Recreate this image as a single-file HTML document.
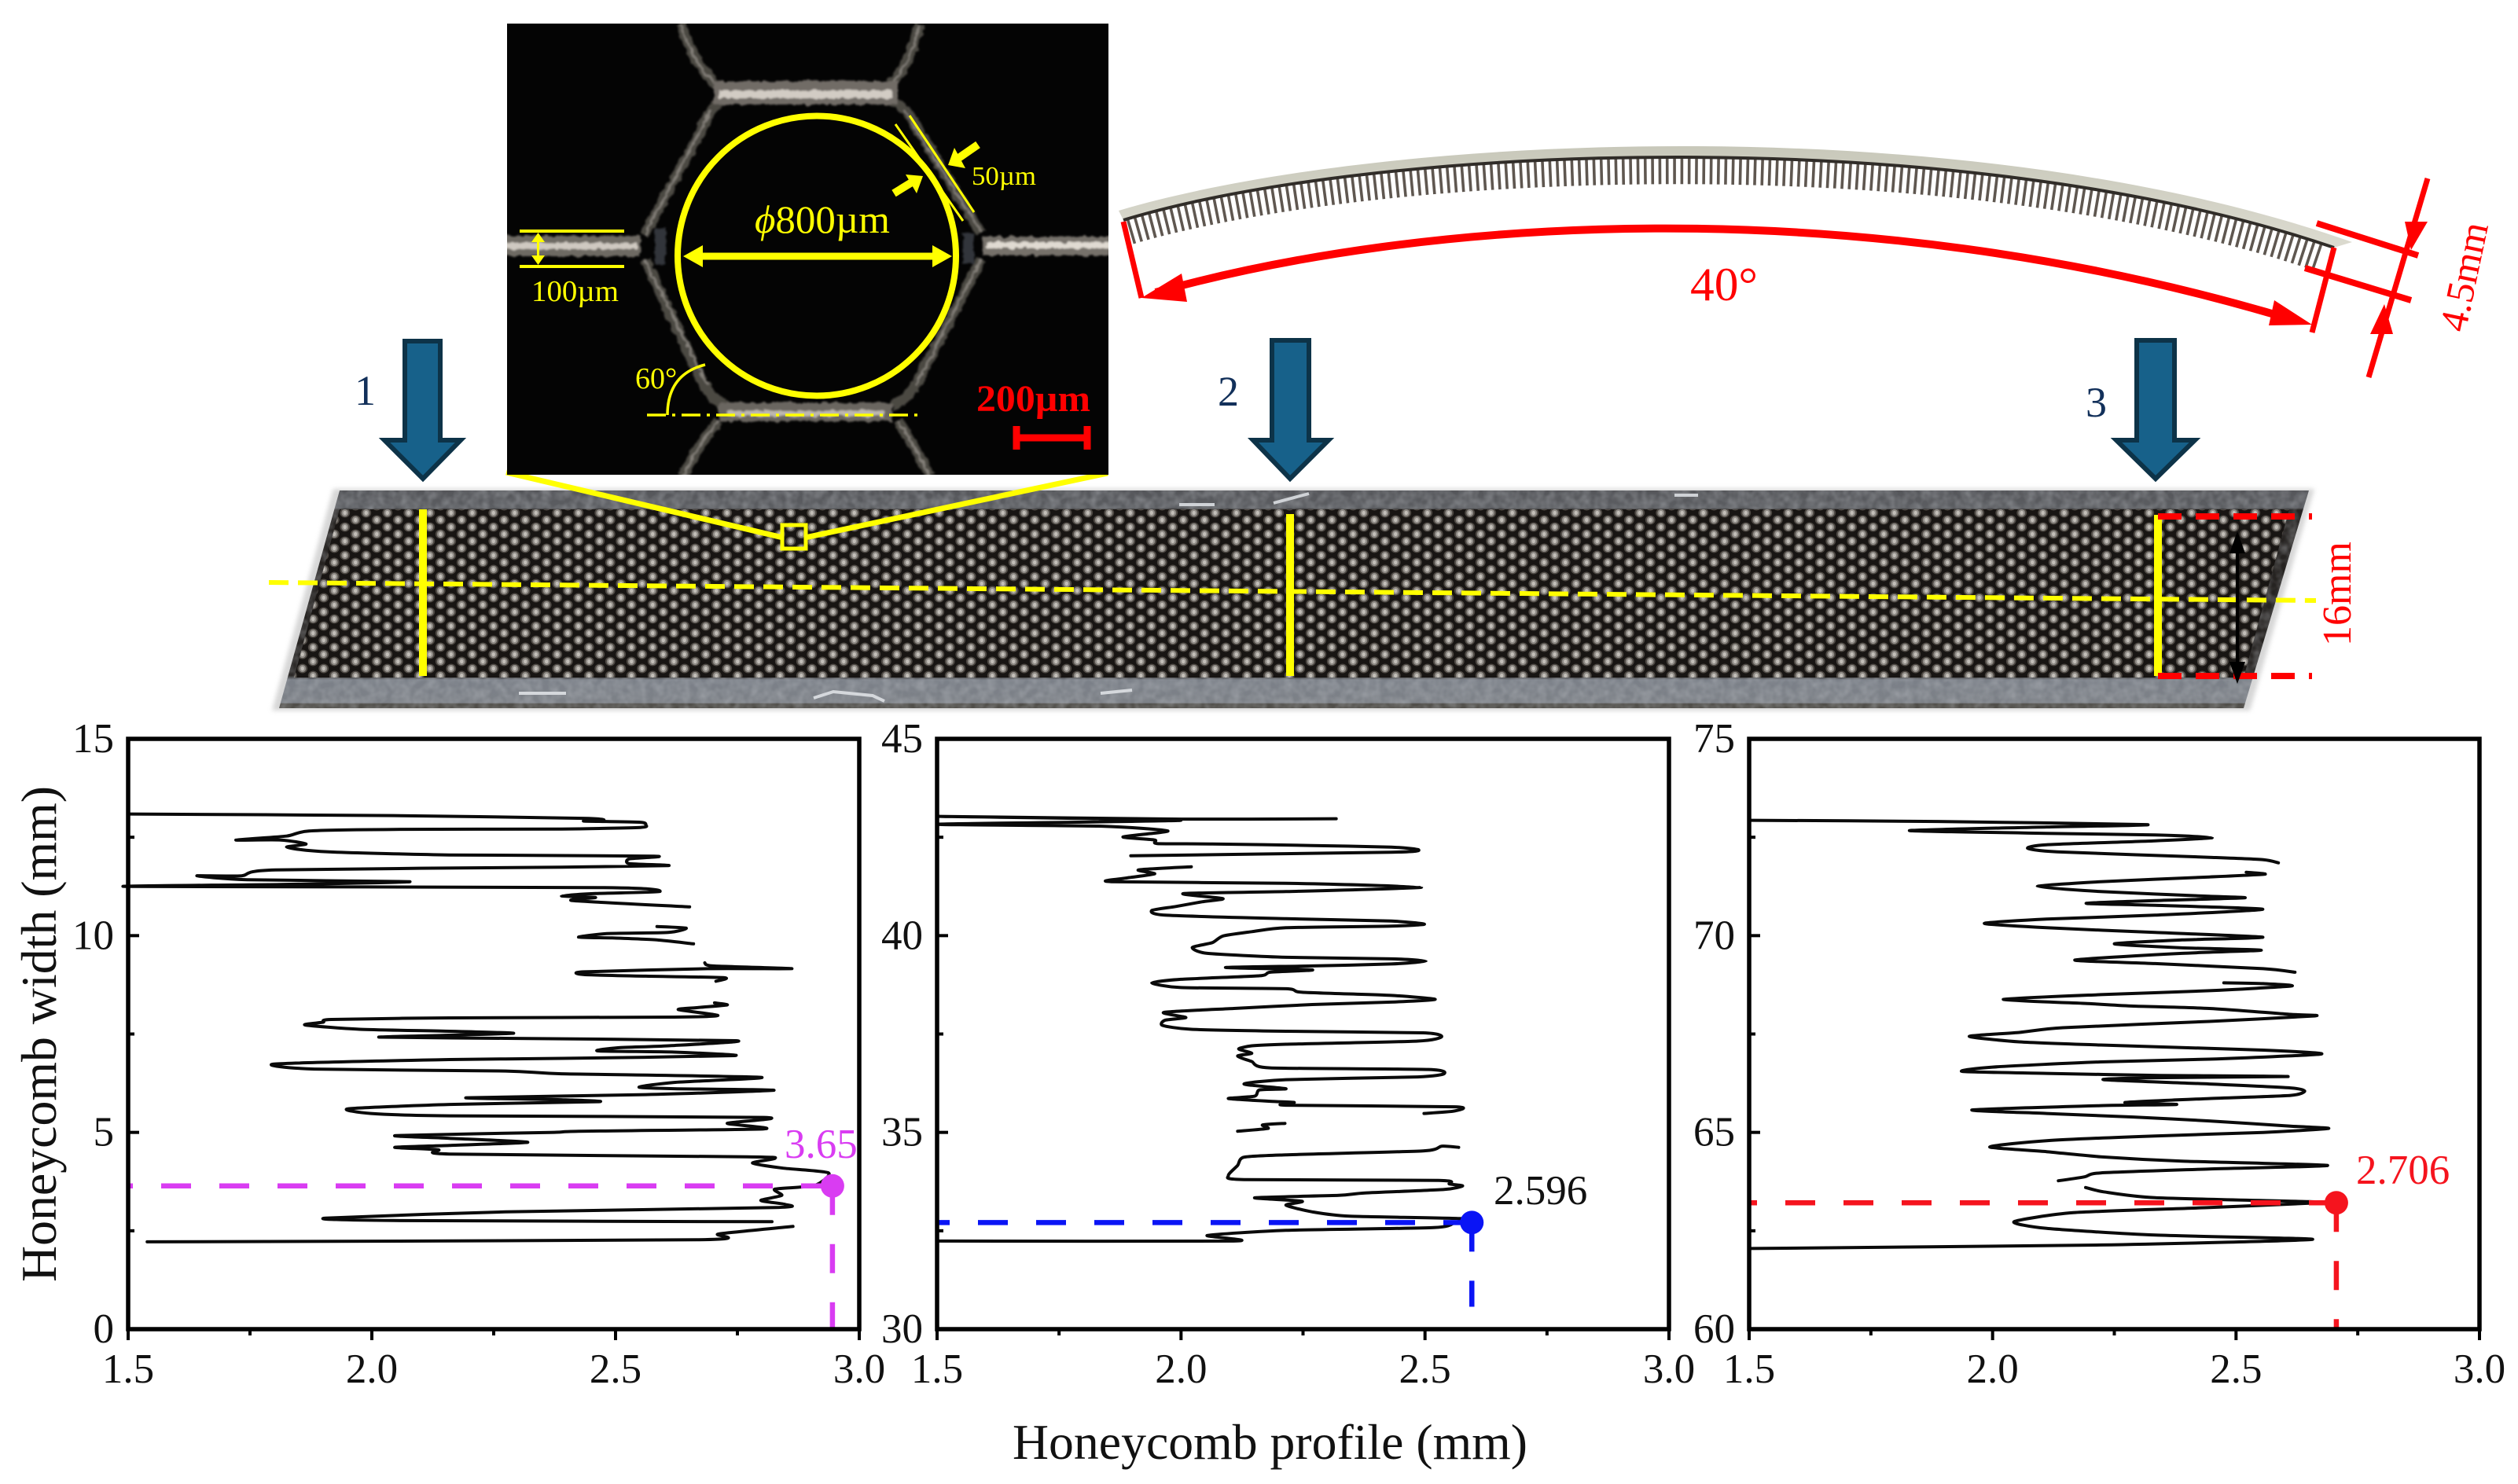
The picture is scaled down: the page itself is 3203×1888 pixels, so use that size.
<!DOCTYPE html>
<html lang="en">
<head>
<meta charset="utf-8">
<title>Honeycomb profile measurements</title>
<style>
html,body{margin:0;padding:0;background:#fff;width:3203px;height:1888px;overflow:hidden}
svg{display:block}
text{font-family:"Liberation Serif","Noto Serif CJK SC",serif}
</style>
</head>
<body>
<svg id="fig" xmlns="http://www.w3.org/2000/svg" width="3203" height="1888" viewBox="0 0 3203 1888">
<defs>
<pattern id="meshDots" patternUnits="userSpaceOnUse" width="27" height="18" x="0" y="648">
<rect width="27" height="18" fill="#181513"/>
<ellipse cx="6.75" cy="4.5" rx="6.4" ry="6" fill="#4e4944"/>
<ellipse cx="20.25" cy="13.5" rx="6.4" ry="6" fill="#4e4944"/>
<ellipse cx="20.25" cy="-4.5" rx="6.4" ry="6" fill="#4e4944"/>
<ellipse cx="6.75" cy="22.5" rx="6.4" ry="6" fill="#4e4944"/>
<ellipse cx="6.75" cy="4.5" rx="4.4" ry="4.6" fill="#8f8b86"/>
<ellipse cx="20.25" cy="13.5" rx="4.4" ry="4.6" fill="#8f8b86"/>
<ellipse cx="6.75" cy="4.5" rx="2.2" ry="2.6" fill="#c2beb8"/>
<ellipse cx="20.25" cy="13.5" rx="2.2" ry="2.6" fill="#c2beb8"/>
</pattern>
<linearGradient id="stripGrad" x1="0" y1="0" x2="0" y2="1">
<stop offset="0" stop-color="#55565a"/>
<stop offset="0.08" stop-color="#5c5e62"/>
<stop offset="0.09" stop-color="#262321"/>
<stop offset="0.85" stop-color="#262321"/>
<stop offset="0.87" stop-color="#7b8088"/>
<stop offset="0.975" stop-color="#7d8187"/>
<stop offset="0.98" stop-color="#504e49"/>
<stop offset="1" stop-color="#504e49"/>
</linearGradient>
<linearGradient id="plateGrad" x1="0" y1="0" x2="0" y2="1">
<stop offset="0" stop-color="#c8c8ba"/>
<stop offset="1" stop-color="#dcdbd0"/>
</linearGradient>
<filter id="softBlur" x="-5%" y="-5%" width="110%" height="110%"><feGaussianBlur stdDeviation="3"/></filter>
<filter id="wallRough" x="-10%" y="-10%" width="120%" height="120%">
<feTurbulence type="fractalNoise" baseFrequency="0.12" numOctaves="2" seed="7" result="n"/>
<feDisplacementMap in="SourceGraphic" in2="n" scale="7" xChannelSelector="R" yChannelSelector="G"/>
<feGaussianBlur stdDeviation="1.2"/>
</filter>
<filter id="grain" x="0" y="0" width="100%" height="100%">
<feTurbulence type="fractalNoise" baseFrequency="0.09" numOctaves="2" seed="4"/>
<feColorMatrix values="0 0 0 0 0.55  0 0 0 0 0.57  0 0 0 0 0.6  0.9 0 0 0 -0.25"/>
</filter>
<clipPath id="stripClip"><polygon points="432,624 2937,624 2854,901 355,901"/></clipPath>
<clipPath id="microClip"><rect x="645" y="30" width="765" height="574"/></clipPath>
</defs>

<!-- curved side view -->
<g>
<path d="M1437 294 C1750 202 2485 170 2949 328" fill="none" stroke="#5f5750" stroke-width="34" stroke-dasharray="3.6 5.7"/>
<path d="M1423 268 C1750 170 2500 134 2992 308 L2969 315 C2490 152 1750 183 1429 280 Z" fill="url(#plateGrad)"/>
<path d="M1429 280 C1750 183 2490 152 2969 315" fill="none" stroke="#302c28" stroke-width="4"/>
</g>
<g fill="none" stroke="#ff0000">
<path d="M1429 282 L1452 379" stroke-width="7"/>
<path d="M1470 372 C1800 280 2350 235 2920 408" stroke-width="10"/>
<polygon points="1452,379 1503,348 1510,384" fill="#ff0000" stroke="none"/>
<polygon points="2941,413 2893,382 2886,414" fill="#ff0000" stroke="none"/>
<path d="M2969 315 L2941 423" stroke-width="7"/>
<path d="M2947 284 L3076 325" stroke-width="8"/>
<path d="M2932 341 L3067 382" stroke-width="8"/>
<path d="M3088 227 L3013 480" stroke-width="7"/>
<polygon points="3067,318 3059,282 3088,282" fill="#ff0000" stroke="none"/>
<polygon points="3033,387 3015,425 3044,425" fill="#ff0000" stroke="none"/>
</g>
<text x="2150" y="382" font-size="60" fill="#ff0000" textLength="86" lengthAdjust="spacingAndGlyphs">40°</text>
<text transform="translate(3136,424) rotate(-78)" font-size="50" fill="#ff0000">4.5mm</text>

<!-- strip photo -->
<g>
<polygon points="424,622 2944,622 2862,904 346,904" fill="#bbb" filter="url(#softBlur)" opacity="0.6"/>
<polygon points="432,624 2937,624 2854,901 355,901" fill="url(#stripGrad)"/>
<g clip-path="url(#stripClip)">
<rect x="340" y="620" width="2610" height="285" filter="url(#grain)" opacity="0.65"/>
<path d="M1500 642 H1545 M1620 640 L1665 628 M2130 630 H2160" stroke="#cfd2d6" stroke-width="4" fill="none"/>
<path d="M1035 888 L1060 880 L1110 885 L1125 892 M1400 882 L1440 878 M660 882 H720" stroke="#d5d8dc" stroke-width="4" fill="none"/>
</g>
<polygon points="432,648 2912,648 2854,862 374,862" fill="url(#meshDots)"/>
</g>

<!-- blue arrows -->
<g fill="#17618a" stroke="#0d3348" stroke-width="6">
<polygon points="515,434 560,434 560,560 586,560 538,609 489,560 515,560"/>
<polygon points="1618,433 1665,433 1665,560 1690,560 1641,609 1594,560 1618,560"/>
<polygon points="2718,433 2766,433 2766,560 2792,560 2742,609 2692,560 2718,560"/>
</g>
<text x="451" y="515" font-size="54" fill="#12305a">1</text>
<text x="1549" y="516" font-size="54" fill="#12305a">2</text>
<text x="2653" y="530" font-size="54" fill="#12305a">3</text>

<!-- strip overlays -->
<g fill="none">
<path d="M538 648 V860" stroke="#ffff00" stroke-width="10"/>
<path d="M1641 654 V860" stroke="#ffff00" stroke-width="10"/>
<path d="M2745 655 V860" stroke="#ffff00" stroke-width="10"/>
<path d="M342 741 L2946 764" stroke="#ffff00" stroke-width="6" stroke-dasharray="25 12"/>
<path d="M2745 657 H2941" stroke="#ff0000" stroke-width="8" stroke-dasharray="30 18"/>
<path d="M2745 860 H2941" stroke="#ff0000" stroke-width="8" stroke-dasharray="30 18"/>
<path d="M2846 690 V860" stroke="#000" stroke-width="4"/>
<polygon points="2846,676 2836,704 2856,704" fill="#000"/>
<polygon points="2846,870 2836,842 2856,842" fill="#000"/>
</g>
<text transform="translate(2990,822) rotate(-90)" font-size="52" fill="#ff0000">16mm</text>

<!-- zoom lines -->
<g fill="none" stroke="#ffff00">
<path d="M644 601 L996 684" stroke-width="7"/>
<path d="M1409 602 L1024 684" stroke-width="7"/>
<rect x="995" y="668" width="30" height="30" stroke-width="5"/>
</g>

<!-- microscope -->
<g>
<rect x="645" y="30" width="765" height="574" fill="#040404"/>
<g clip-path="url(#microClip)">
<g fill="none" stroke="#4b4843" stroke-width="13" filter="url(#wallRough)">
<path d="M866 30 Q885 90 918 112"/>
<path d="M1170 30 Q1155 90 1130 108"/>
<path d="M925 126 Q905 130 890 170 L820 298"/>
<path d="M1125 126 Q1150 130 1168 165 L1248 296"/>
<path d="M820 330 L890 480 Q905 510 925 516"/>
<path d="M1248 330 L1170 480 Q1155 510 1135 516"/>
<path d="M914 535 Q885 570 869 606"/>
<path d="M1142 535 Q1165 570 1183 606"/>
<path d="M866 30 Q885 90 918 112 M1170 30 Q1155 90 1130 108 M905 140 L820 298 M1150 140 L1248 296 M820 330 L900 490 M1248 330 L1165 490 M914 535 Q885 570 869 606 M1142 535 Q1165 570 1183 606" stroke="#86827b" stroke-width="2.5"/>
<path d="M840 290 L840 336" stroke="#33353a" stroke-width="14"/>
<path d="M1232 296 L1232 336" stroke="#33353a" stroke-width="14"/>
<path d="M640 313 H815" stroke="#6e6a64" stroke-width="26"/>
<path d="M640 313 H810" stroke="#cfc9c1" stroke-width="8"/>
<path d="M1250 313 H1415" stroke="#76716b" stroke-width="24"/>
<path d="M1255 312 H1415" stroke="#e0dad2" stroke-width="8"/>
<path d="M908 118 H1142" stroke="#716c66" stroke-width="30"/>
<path d="M915 120 H1135" stroke="#d2ccc4" stroke-width="10"/>
<path d="M915 524 H1135" stroke="#6a6660" stroke-width="24"/>
<path d="M925 526 H1125" stroke="#bdb8b0" stroke-width="7"/>
</g>
</g>
<g fill="none" stroke="#ffff00">
<ellipse cx="1039" cy="325.5" rx="177" ry="178" stroke-width="8"/>
<path d="M890 326 H1190" stroke-width="9"/>
<polygon points="869,326 894,312 894,340" fill="#ffff00" stroke="none"/>
<polygon points="1211,326 1186,312 1186,340" fill="#ffff00" stroke="none"/>
<path d="M661 294 H794" stroke-width="4"/>
<path d="M661 339 H794" stroke-width="4"/>
<path d="M684.5 300 V333" stroke-width="3"/>
<polygon points="684.5,296 676,308 693,308" fill="#ffff00" stroke="none"/>
<polygon points="684.5,337 676,325 693,325" fill="#ffff00" stroke="none"/>
<path d="M1139 158 L1225 281" stroke-width="3"/>
<path d="M1157 147 L1239 270" stroke-width="3"/>
<path d="M1244 184 L1218 202" stroke-width="10"/>
<polygon points="1206,210 1214,188 1228,214" fill="#ffff00" stroke="none"/>
<path d="M1137 246 L1163 230" stroke-width="10"/>
<polygon points="1174,224 1152,222 1166,246" fill="#ffff00" stroke="none"/>
<path d="M897 464 Q849 476 849 528" stroke-width="3.5"/>
<path d="M823 528 H1174" stroke-width="3.5" stroke-dasharray="24 8 4 8"/>
</g>
<text x="960" y="296" font-size="50" fill="#ffff00" textLength="172" lengthAdjust="spacingAndGlyphs"><tspan font-style="italic">ϕ</tspan>800µm</text>
<text x="676" y="383" font-size="38" fill="#ffff00" textLength="111" lengthAdjust="spacingAndGlyphs">100µm</text>
<text x="1236" y="235" font-size="34" fill="#ffff00" textLength="82" lengthAdjust="spacingAndGlyphs">50µm</text>
<text x="808" y="494" font-size="38" fill="#ffff00">60°</text>
<text x="1242" y="523" font-size="48" font-weight="bold" fill="#ff0000" textLength="145" lengthAdjust="spacingAndGlyphs">200µm</text>
<g stroke="#ff0000" fill="none">
<path d="M1293 557 H1383" stroke-width="9"/>
<path d="M1293 542 V572" stroke-width="9"/>
<path d="M1383 542 V572" stroke-width="9"/>
</g>
</g>

<!-- charts -->
<g id="charts"></g>
<text transform="translate(71,1631) rotate(-90)" font-size="64" fill="#111" textLength="631" lengthAdjust="spacingAndGlyphs">Honeycomb width (mm)</text>
<text x="1288" y="1856" font-size="64" fill="#111" textLength="655" lengthAdjust="spacingAndGlyphs">Honeycomb profile (mm)</text>
</svg>

<script>
// ---- chart data (axis units: profile mm, width mm; null breaks the trace) ----
const xTicks = [1.5, 2.0, 2.5, 3.0];
const xTickLabels = ['1.5', '2.0', '2.5', '3.0'];
const xMinorTicks = [1.75, 2.25, 2.75];
const yTicksA = [0, 5, 10, 15];
const yTicksB = [30, 35, 40, 45];
const yTicksC = [60, 65, 70, 75];
const yMinorA = [2.5, 7.5, 12.5];
const yMinorB = [32.5, 37.5, 42.5];
const yMinorC = [62.5, 67.5, 72.5];

const profileA = [1.5,2.044,2.435,2.476,2.435,2.551,2.562,2.551,2.389,2.044,1.871,1.825,1.721,1.813,1.865,1.825,1.865,1.929,2.159,2.579,2.528,2.528,2.608,2.389,1.802,1.733,1.641,1.744,2.078,1.813,1.5,2.476,2.591,2.459,2.389,2.459,2.412,2.652,null,
2.585,2.645,2.608,2.482,2.424,2.493,2.585,2.660,null,
2.683,2.700,2.862,2.689,2.435,2.435,2.562,2.723,2.706,null,
2.703,2.729,2.666,2.629,2.710,2.620,2.159,1.917,1.900,1.863,1.975,2.159,2.291,2.159,2.015,2.274,2.747,2.608,2.505,2.464,2.620,2.744,2.389,2.159,1.802,1.882,2.274,2.389,2.798,2.620,2.548,2.620,2.825,2.562,2.194,2.389,2.464,2.159,1.952,1.998,2.159,2.804,2.729,2.804,2.424,2.366,2.050,2.159,2.320,2.159,2.047,2.136,2.159,2.770,2.827,2.781,2.844,2.937,2.908,2.827,2.841,2.798,2.848,2.827,2.274,1.905,2.044,2.821,null,
2.864,2.712,2.666,1.539];
const widthA = [13.09,13.05,12.98,12.93,12.91,12.88,12.81,12.75,12.71,12.70,12.66,12.53,12.43,12.43,12.33,12.25,12.17,12.12,12.05,12.02,11.95,11.83,11.78,11.74,11.67,11.52,11.52,11.42,11.37,11.30,11.25,11.22,11.12,11.07,11.01,10.97,10.89,10.73,null,
10.23,10.19,10.08,10.05,9.96,9.94,9.89,9.79,null,
9.31,9.23,9.16,9.16,9.08,9.01,8.97,8.93,8.84,null,
8.29,8.24,8.17,8.12,7.97,7.93,7.91,7.87,7.80,7.73,7.62,7.57,7.52,7.47,7.42,7.39,7.33,7.20,7.15,7.07,7.04,6.95,6.88,6.85,6.74,6.61,6.56,6.49,6.40,6.27,6.15,6.11,6.07,5.96,5.88,5.83,5.78,5.71,5.60,5.48,5.42,5.38,5.23,5.09,5.03,5.00,4.92,4.85,4.75,4.67,4.62,4.56,4.45,4.38,4.34,4.22,4.09,3.97,3.65,3.56,3.40,3.27,3.17,3.09,2.98,2.82,2.76,2.73,null,
2.61,2.42,2.27,2.22];

const profileB = [2.318,2.000,1.5,2.000,1.5,1.838,1.973,1.881,1.946,1.951,2.064,2.269,2.431,2.487,2.431,1.897,null,
2.021,1.913,1.946,1.886,1.857,2.215,2.493,2.215,2.005,2.086,2.043,1.989,1.940,1.967,2.215,2.431,2.499,2.431,2.215,2.145,2.086,2.064,2.023,2.054,2.215,2.431,2.502,2.431,2.269,2.091,2.269,2.183,2.161,2.000,1.940,2.000,2.215,2.248,2.431,2.521,2.431,2.269,2.108,1.965,2.010,1.967,1.962,2.021,2.215,2.496,2.534,2.485,2.215,2.145,2.118,2.145,2.116,2.145,2.183,2.507,2.539,2.485,2.215,2.129,2.215,2.161,2.151,2.097,2.183,2.232,2.215,2.561,2.559,2.498,null,
2.213,2.167,2.178,2.116,null,
2.569,2.534,2.496,2.215,2.129,2.116,2.097,2.129,2.528,2.550,2.577,2.539,2.377,2.323,2.151,2.248,2.215,2.269,2.345,2.572,2.561,2.518,2.215,2.054,2.108,1.5];
const widthB = [42.97,42.96,43.03,42.93,42.83,42.78,42.66,42.51,42.43,42.34,42.33,42.29,42.25,42.18,42.12,42.03,null,
41.75,41.67,41.57,41.46,41.37,41.33,41.23,41.12,41.07,40.94,40.86,40.74,40.64,40.52,40.43,40.37,40.29,40.24,40.20,40.10,39.99,39.82,39.70,39.55,39.45,39.41,39.35,39.28,39.23,39.19,39.13,39.07,38.98,38.89,38.80,38.68,38.65,38.56,38.48,38.38,38.31,38.25,38.15,38.05,37.92,37.85,37.72,37.62,37.57,37.53,37.43,37.32,37.24,37.20,37.12,37.01,36.94,36.80,36.64,36.60,36.49,36.41,36.34,36.23,36.11,36.08,35.92,35.86,35.79,35.76,35.69,35.65,35.54,35.48,null,
35.23,35.19,35.10,35.03,null,
34.62,34.65,34.53,34.43,34.37,34.16,33.90,33.80,33.78,33.69,33.64,33.55,33.46,33.40,33.34,33.25,33.15,32.98,32.87,32.81,32.71,32.58,32.51,32.38,32.24,32.24];

const profileC = [1.5,1.888,2.317,2.111,1.829,2.111,2.334,2.451,2.334,2.111,2.072,2.133,2.445,2.556,2.587,null,
2.521,2.559,2.445,2.222,2.092,2.222,2.445,2.517,2.334,2.192,2.334,2.555,2.334,2.111,1.983,2.111,2.334,2.555,2.389,2.250,2.389,2.552,2.389,2.169,2.334,2.556,2.621,null,
2.475,2.556,2.614,2.445,2.222,2.022,2.200,2.289,2.445,2.612,2.662,2.445,2.144,2.055,1.952,2.055,2.222,2.556,2.675,2.445,2.222,2.000,1.938,2.111,2.334,2.607,2.334,2.228,2.445,2.612,2.641,2.612,2.445,2.272,2.378,2.222,1.958,2.111,2.289,2.445,2.612,2.690,2.556,2.334,2.111,1.994,2.111,2.222,2.389,2.688,2.445,2.222,2.189,2.135,null,
2.191,2.228,2.334,2.651,2.668,2.445,2.166,2.044,2.111,2.334,2.657,2.222,1.5];
const widthC = [72.93,72.90,72.82,72.76,72.67,72.60,72.56,72.49,72.41,72.31,72.22,72.13,71.99,71.93,71.85,null,
71.61,71.56,71.49,71.37,71.25,71.12,71.00,70.96,70.89,70.82,70.77,70.67,70.52,70.42,70.31,70.20,70.08,69.96,69.89,69.79,69.69,69.63,69.55,69.38,69.29,69.16,69.07,null,
68.80,68.78,68.72,68.60,68.50,68.38,68.27,68.21,68.15,68.00,67.96,67.82,67.66,67.54,67.44,67.30,67.22,67.09,66.99,66.86,66.79,66.66,66.55,66.50,66.45,66.42,66.39,66.34,66.23,66.13,66.05,65.94,65.86,65.76,65.71,65.68,65.57,65.48,65.39,65.29,65.16,65.10,65.00,64.91,64.79,64.63,64.51,64.38,64.27,64.16,64.07,63.97,63.87,63.77,null,
63.60,63.49,63.34,63.24,63.21,63.09,62.96,62.73,62.56,62.39,62.28,62.14,62.05];

const peakProfiles = [2.945, 2.596, 2.706];
const peakWidths = [3.64, 32.71, 63.21];
const peakLabels = ['3.65', '2.596', '2.706'];
const verticalDropEnds = [0, 30.57, 60];

// ---- layout (not data) ----
const NS = 'http://www.w3.org/2000/svg';
const chartRoot = document.getElementById('charts');
const PLOT_TOP = 940, PLOT_BOTTOM = 1691;
const panels = [
  {key:'a', left:163, right:1093, yTicks:yTicksA, yMinor:yMinorA, px:profileA, py:widthA, color:'#d93cf2', hOffset:32, lx:998, ly:1473},
  {key:'b', left:1192, right:2123, yTicks:yTicksB, yMinor:yMinorB, px:profileB, py:widthB, color:'#0a14f5', hOffset:22, lx:1900, ly:1532},
  {key:'c', left:2225, right:3154, yTicks:yTicksC, yMinor:yMinorC, px:profileC, py:widthC, color:'#f5141e', hOffset:28, lx:2997, ly:1506}
];

function axisX(p, v) {
  return p.left + (v - xTicks[0]) / (xTicks[xTicks.length - 1] - xTicks[0]) * (p.right - p.left);
}
function axisY(p, v) {
  const lo = p.yTicks[0], hi = p.yTicks[p.yTicks.length - 1];
  return PLOT_BOTTOM - (v - lo) / (hi - lo) * (PLOT_BOTTOM - PLOT_TOP);
}
function make(tag, parent, attrs) {
  const el = document.createElementNS(NS, tag);
  for (const k in attrs) el.setAttribute(k, attrs[k]);
  parent.appendChild(el);
  return el;
}
function smoothRun(run) {
  const k = 0.11;
  let d = 'M' + run[0][0].toFixed(1) + ' ' + run[0][1].toFixed(1);
  for (let i = 0; i < run.length - 1; i++) {
    const p0 = run[Math.max(i - 1, 0)], p1 = run[i], p2 = run[i + 1], p3 = run[Math.min(i + 2, run.length - 1)];
    const c1x = p1[0] + (p2[0] - p0[0]) * k, c1y = p1[1] + (p2[1] - p0[1]) * k;
    const c2x = p2[0] - (p3[0] - p1[0]) * k, c2y = p2[1] - (p3[1] - p1[1]) * k;
    d += 'C' + c1x.toFixed(1) + ' ' + c1y.toFixed(1) + ' ' + c2x.toFixed(1) + ' ' + c2y.toFixed(1) + ' ' + p2[0].toFixed(1) + ' ' + p2[1].toFixed(1);
  }
  return d;
}

panels.forEach(function (p, i) {
  const g = make('g', chartRoot, {});
  
  

  // trace
  let d = '', run = [];
  for (let k = 0; k <= p.px.length; k++) {
    if (k === p.px.length || p.px[k] === null || p.py[k] === null) {
      if (run.length > 1) d += smoothRun(run);
      run = [];
      continue;
    }
    run.push([axisX(p, p.px[k]), axisY(p, p.py[k])]);
  }
  const trace = make('path', g, {d: d, fill: 'none', stroke: '#0a0a0a', 'stroke-width': 4, 'stroke-linejoin': 'round', 'stroke-linecap': 'round'});
  
  

  // guide lines and peak marker
  const mx = axisX(p, peakProfiles[i]), my = axisY(p, peakWidths[i]);
  const hGuide = make('line', g, {x1: p.left, y1: my, x2: mx, y2: my, stroke: p.color, 'stroke-width': 6.5, 'stroke-dasharray': '38 36', 'stroke-dashoffset': p.hOffset});
  
  
  const vGuide = make('line', g, {x1: mx, y1: my, x2: mx, y2: axisY(p, verticalDropEnds[i]), stroke: p.color, 'stroke-width': 6.5, 'stroke-dasharray': '37 37'});
  
  
  const dot = make('circle', g, {cx: mx, cy: my, r: 15, fill: p.color});
  
  
  const lab = make('text', g, {x: p.lx, y: p.ly, 'font-size': 53, fill: i === 1 ? '#111' : p.color});
  lab.textContent = peakLabels[i];
  
  

  // frame
  const frame = make('rect', g, {x: p.left, y: PLOT_TOP, width: p.right - p.left, height: PLOT_BOTTOM - PLOT_TOP, fill: 'none', stroke: '#000', 'stroke-width': 5.5});
  
  

  // x ticks
  xTicks.forEach(function (t, j) {
    const x = axisX(p, t);
    const tick = make('line', g, {x1: x, y1: PLOT_BOTTOM, x2: x, y2: PLOT_BOTTOM + 14, stroke: '#000', 'stroke-width': 4});
    
    
    const tl = make('text', g, {x: x, y: 1759, 'font-size': 53, 'text-anchor': 'middle', fill: '#111'});
    tl.textContent = xTickLabels[j];
    
    
  });
  xMinorTicks.forEach(function (t) {
    const x = axisX(p, t);
    const tick = make('line', g, {x1: x, y1: PLOT_BOTTOM, x2: x, y2: PLOT_BOTTOM + 8, stroke: '#000', 'stroke-width': 4});
    
    
  });

  // y ticks
  p.yTicks.forEach(function (t) {
    const y = axisY(p, t);
    const tick = make('line', g, {x1: p.left, y1: y, x2: p.left + 14, y2: y, stroke: '#000', 'stroke-width': 4});
    
    
    const tl = make('text', g, {x: p.left - 18, y: y + 17, 'font-size': 53, 'text-anchor': 'end', fill: '#111'});
    tl.textContent = String(t);
    
    
  });
  p.yMinor.forEach(function (t) {
    const y = axisY(p, t);
    const tick = make('line', g, {x1: p.left, y1: y, x2: p.left + 8, y2: y, stroke: '#000', 'stroke-width': 4});
    
    
  });
});
</script>
</body>
</html>
